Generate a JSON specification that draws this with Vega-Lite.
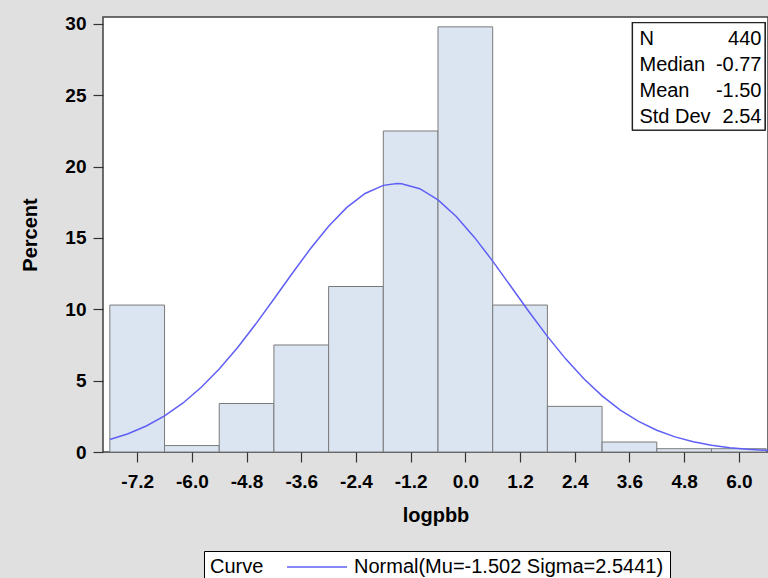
{
  "$schema": "https://vega.github.io/schema/vega-lite/v6.json",
  "width": 665,
  "height": 435,
  "autosize": {"type": "none"},
  "padding": {"left": 103, "top": 17, "right": 0, "bottom": 126},
  "background": "#e0e0e0",
  "config": {
    "font": "Liberation Sans",
    "view": {"stroke": "#404040", "strokeWidth": 1.5, "fill": "white"}
  },
  "datasets": {
    "hist": [
      {"lo": -7.8, "hi": -6.6, "pct": 10.3},
      {"lo": -6.6, "hi": -5.4, "pct": 0.45},
      {"lo": -5.4, "hi": -4.2, "pct": 3.4},
      {"lo": -4.2, "hi": -3.0, "pct": 7.5},
      {"lo": -3.0, "hi": -1.8, "pct": 11.6},
      {"lo": -1.8, "hi": -0.6, "pct": 22.5},
      {"lo": -0.6, "hi": 0.6, "pct": 29.8},
      {"lo": 0.6, "hi": 1.8, "pct": 10.3},
      {"lo": 1.8, "hi": 3.0, "pct": 3.2},
      {"lo": 3.0, "hi": 4.2, "pct": 0.7},
      {"lo": 4.2, "hi": 5.4, "pct": 0.23},
      {"lo": 5.4, "hi": 6.6, "pct": 0.23}
    ],
    "curve": [
      {"x": -7.8, "y": 0.879}, {"x": -7.4, "y": 1.281}, {"x": -7.0, "y": 1.821},
      {"x": -6.6, "y": 2.527}, {"x": -6.2, "y": 3.420}, {"x": -5.8, "y": 4.516},
      {"x": -5.4, "y": 5.818}, {"x": -5.0, "y": 7.312}, {"x": -4.6, "y": 8.966},
      {"x": -4.2, "y": 10.724}, {"x": -3.8, "y": 12.513}, {"x": -3.4, "y": 14.247},
      {"x": -3.0, "y": 15.823}, {"x": -2.6, "y": 17.144}, {"x": -2.2, "y": 18.122},
      {"x": -1.8, "y": 18.688}, {"x": -1.5, "y": 18.817}, {"x": -1.4, "y": 18.802},
      {"x": -1.0, "y": 18.454}, {"x": -0.6, "y": 17.670}, {"x": -0.2, "y": 16.507},
      {"x": 0.2, "y": 15.043}, {"x": 0.6, "y": 13.376}, {"x": 1.0, "y": 11.602},
      {"x": 1.4, "y": 9.817}, {"x": 1.8, "y": 8.105}, {"x": 2.2, "y": 6.528},
      {"x": 2.6, "y": 5.129}, {"x": 3.0, "y": 3.932}, {"x": 3.4, "y": 2.940},
      {"x": 3.8, "y": 2.145}, {"x": 4.2, "y": 1.527}, {"x": 4.6, "y": 1.060},
      {"x": 5.0, "y": 0.718}, {"x": 5.4, "y": 0.475}, {"x": 5.8, "y": 0.306},
      {"x": 6.2, "y": 0.193}, {"x": 6.6, "y": 0.118}, {"x": 6.64, "y": 0.111}
    ],
    "stats": [
      {"stat": "N", "value": "440"},
      {"stat": "Median", "value": "-0.77"},
      {"stat": "Mean", "value": "-1.50"},
      {"stat": "Std Dev", "value": "2.54"}
    ]
  },
  "layer": [
    {
      "data": {"name": "hist"},
      "mark": {"type": "bar", "fill": "#dbe5f1", "stroke": "#7a7a7a", "strokeWidth": 1, "clip": true},
      "encoding": {
        "x": {
          "field": "lo", "type": "quantitative",
          "scale": {"domain": [-7.95, 6.64], "nice": false, "zero": false},
          "axis": {
            "title": "logpbb",
            "values": [-7.2, -6.0, -4.8, -3.6, -2.4, -1.2, 0.0, 1.2, 2.4, 3.6, 4.8, 6.0],
            "format": ".1f",
            "labelExpr": "replace(datum.label, '\u2212', '-')",
            "grid": false, "domain": false,
            "tickSize": 10, "tickColor": "#333333", "tickWidth": 1.2,
            "labelFontSize": 19, "labelFontWeight": "bold", "labelColor": "black",
            "labelPadding": 10, "labelFlush": false, "labelOverlap": false,
            "titleFontSize": 20, "titleFontWeight": "bold", "titleColor": "black",
            "titlePadding": 14
          }
        },
        "x2": {"field": "hi"},
        "y": {
          "field": "pct", "type": "quantitative",
          "scale": {"domain": [0, 30.49], "nice": false},
          "axis": {
            "title": "Percent",
            "values": [0, 5, 10, 15, 20, 25, 30],
            "grid": false, "domain": false,
            "tickSize": 10, "tickColor": "#333333", "tickWidth": 1.2,
            "labelFontSize": 19, "labelFontWeight": "bold", "labelColor": "black",
            "labelPadding": 7, "labelFlush": false, "labelOverlap": false,
            "titleFontSize": 20, "titleFontWeight": "bold", "titleColor": "black",
            "titlePadding": 24
          }
        },
        "y2": {"datum": 0}
      }
    },
    {
      "data": {"name": "curve"},
      "mark": {"type": "line", "strokeWidth": 1.5, "clip": true},
      "encoding": {
        "x": {"field": "x", "type": "quantitative"},
        "y": {"field": "y", "type": "quantitative"},
        "color": {
          "datum": "Normal(Mu=-1.502 Sigma=2.5441)",
          "type": "nominal",
          "scale": {"range": ["#5f5ff5"]},
          "legend": {
            "title": "Curve",
            "orient": "none",
            "legendX": 101,
            "legendY": 534,
            "direction": "horizontal",
            "titleOrient": "left",
            "titleFontSize": 20,
            "titleFontWeight": "normal",
            "titleColor": "black",
            "titlePadding": 17,
            "labelFontSize": 20,
            "labelColor": "black",
            "labelOffset": 27,
            "labelLimit": 500,
            "symbolType": "M-10,0H10",
            "symbolSize": 36,
            "symbolOffset": 26,
            "symbolStrokeWidth": 1.5,
            "strokeColor": "black",
            "fillColor": "white",
            "padding": 6
          }
        }
      }
    },
    {
      "data": {"name": "stats"},
      "mark": {"type": "rect", "fill": "white", "stroke": "#222222", "strokeWidth": 1.2},
      "encoding": {
        "x": {"datum": 3.667, "type": "quantitative"},
        "x2": {"datum": 6.574},
        "y": {"datum": 30.10, "type": "quantitative"},
        "y2": {"datum": 22.57}
      }
    },
    {
      "data": {"name": "stats"},
      "transform": [{"filter": "datum.stat === 'N'"}],
      "encoding": {"y": {"datum": 28.98, "type": "quantitative"}},
      "layer": [
        {"mark": {"type": "text", "align": "left", "baseline": "middle", "fontSize": 20, "color": "black"},
         "encoding": {"x": {"datum": 3.82, "type": "quantitative"}, "text": {"field": "stat", "type": "nominal"}}},
        {"mark": {"type": "text", "align": "right", "baseline": "middle", "fontSize": 20, "color": "black"},
         "encoding": {"x": {"datum": 6.497, "type": "quantitative"}, "text": {"field": "value", "type": "nominal"}}}
      ]
    },
    {
      "data": {"name": "stats"},
      "transform": [{"filter": "datum.stat === 'Median'"}],
      "encoding": {"y": {"datum": 27.13, "type": "quantitative"}},
      "layer": [
        {"mark": {"type": "text", "align": "left", "baseline": "middle", "fontSize": 20, "color": "black"},
         "encoding": {"x": {"datum": 3.82, "type": "quantitative"}, "text": {"field": "stat", "type": "nominal"}}},
        {"mark": {"type": "text", "align": "right", "baseline": "middle", "fontSize": 20, "color": "black"},
         "encoding": {"x": {"datum": 6.497, "type": "quantitative"}, "text": {"field": "value", "type": "nominal"}}}
      ]
    },
    {
      "data": {"name": "stats"},
      "transform": [{"filter": "datum.stat === 'Mean'"}],
      "encoding": {"y": {"datum": 25.27, "type": "quantitative"}},
      "layer": [
        {"mark": {"type": "text", "align": "left", "baseline": "middle", "fontSize": 20, "color": "black"},
         "encoding": {"x": {"datum": 3.82, "type": "quantitative"}, "text": {"field": "stat", "type": "nominal"}}},
        {"mark": {"type": "text", "align": "right", "baseline": "middle", "fontSize": 20, "color": "black"},
         "encoding": {"x": {"datum": 6.497, "type": "quantitative"}, "text": {"field": "value", "type": "nominal"}}}
      ]
    },
    {
      "data": {"name": "stats"},
      "transform": [{"filter": "datum.stat === 'Std Dev'"}],
      "encoding": {"y": {"datum": 23.45, "type": "quantitative"}},
      "layer": [
        {"mark": {"type": "text", "align": "left", "baseline": "middle", "fontSize": 20, "color": "black"},
         "encoding": {"x": {"datum": 3.82, "type": "quantitative"}, "text": {"field": "stat", "type": "nominal"}}},
        {"mark": {"type": "text", "align": "right", "baseline": "middle", "fontSize": 20, "color": "black"},
         "encoding": {"x": {"datum": 6.497, "type": "quantitative"}, "text": {"field": "value", "type": "nominal"}}}
      ]
    }
  ]
}
